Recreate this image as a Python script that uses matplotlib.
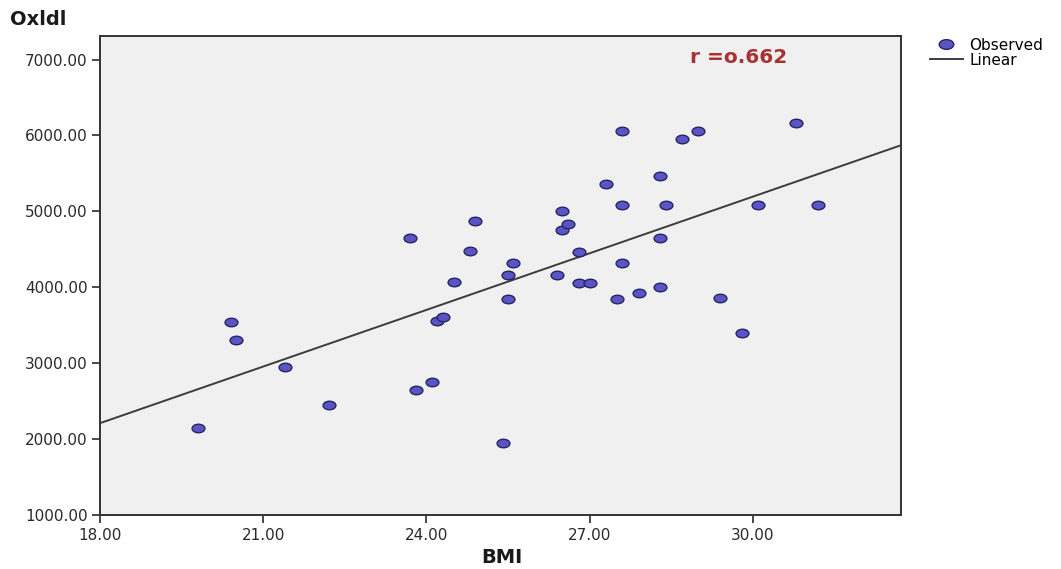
import numpy as np
import matplotlib
matplotlib.use("Agg")
import matplotlib.pyplot as plt
from matplotlib.markers import MarkerStyle
from matplotlib.transforms import Affine2D
from matplotlib.lines import Line2D

## --- data
bmi = [19.8, 20.4, 20.5, 21.4, 22.2, 23.7, 23.8, 24.1, 24.2, 24.3,
       24.5, 24.8, 24.9, 25.4, 25.5, 25.5, 25.6, 26.4, 26.5, 26.5,
       26.6, 26.8, 26.8, 27.0, 27.3, 27.5, 27.6, 27.6, 27.6, 27.9,
       28.3, 28.3, 28.3, 28.4, 28.7, 29.0, 29.4, 29.8, 30.1, 30.8, 31.2]
oxldl = [2140, 3540, 3310, 2950, 2450, 4650, 2650, 2750, 3550, 3610,
         4070, 4480, 4870, 1950, 4160, 3850, 4320, 4160, 5010, 4760,
         4830, 4470, 4050, 4050, 5360, 3840, 6060, 5090, 4320, 3920,
         5460, 4650, 4000, 5090, 5950, 6060, 3860, 3400, 5090, 6170, 5090]
# fitted line as drawn (ends at plot edges)
fit_x = [18.0, 32.72]
fit_y = [2210, 5870]
x_ticks = [18, 21, 24, 27, 30]
y_ticks = [1000, 2000, 3000, 4000, 5000, 6000, 7000]

plt.rcParams['font.family'] = ['DejaVu Sans']

fig = plt.figure(figsize=(10.61, 5.69), dpi=100)
ax = fig.add_axes([0.0943, 0.0949, 0.849 - 0.0943, 0.9367 - 0.0949])
ax.set_facecolor('#f0f0f0')

# SPSS style flattened ellipse marker
ell = MarkerStyle('o', transform=Affine2D().scale(1.5, 1.0))
ax.scatter(bmi, oxldl, marker=ell, s=38, facecolor='#5a54c6',
           edgecolor='#262660', linewidth=1.0, zorder=3)
ax.plot(fit_x, fit_y, color='#3c3c3c', linewidth=1.4, zorder=2)

ax.set_xlim(18, 32.72)
ax.set_ylim(1000, 7310)
ax.set_xticks(x_ticks)
ax.set_xticklabels(['%.2f' % v for v in x_ticks])
ax.set_yticks(y_ticks)
ax.set_yticklabels(['%.2f' % v for v in y_ticks])
ax.tick_params(direction='out', length=6, width=1.2, pad=3,
               labelsize=11, colors='#2a2a2a')
for s in ax.spines.values():
    s.set_color('#333333')
    s.set_linewidth(1.4)

fig.text(0.009, 0.965, 'Oxldl', fontsize=14, fontweight='bold',
         ha='left', va='center', color='#1a1a1a')
fig.text(0.473, 0.021, 'BMI', fontsize=14, fontweight='bold',
         ha='center', va='center', color='#1a1a1a')
ax.text(0.797, 0.955, 'r =o.662', transform=ax.transAxes, fontsize=14.5,
        fontweight='bold', color='#a83232', ha='center', va='center')

handles = [Line2D([], [], linestyle='none', marker=ell, markersize=7,
                  markerfacecolor='#5a54c6', markeredgecolor='#262660'),
           Line2D([], [], color='#3c3c3c', linewidth=1.4)]
fig.legend(handles, ['Observed', 'Linear'], loc='upper left',
           bbox_to_anchor=(0.869, 0.947), frameon=False, fontsize=11,
           handlelength=2.2, handletextpad=0.4, labelspacing=0.0,
           borderpad=0.0)

fig.savefig('out.png', dpi=100)
